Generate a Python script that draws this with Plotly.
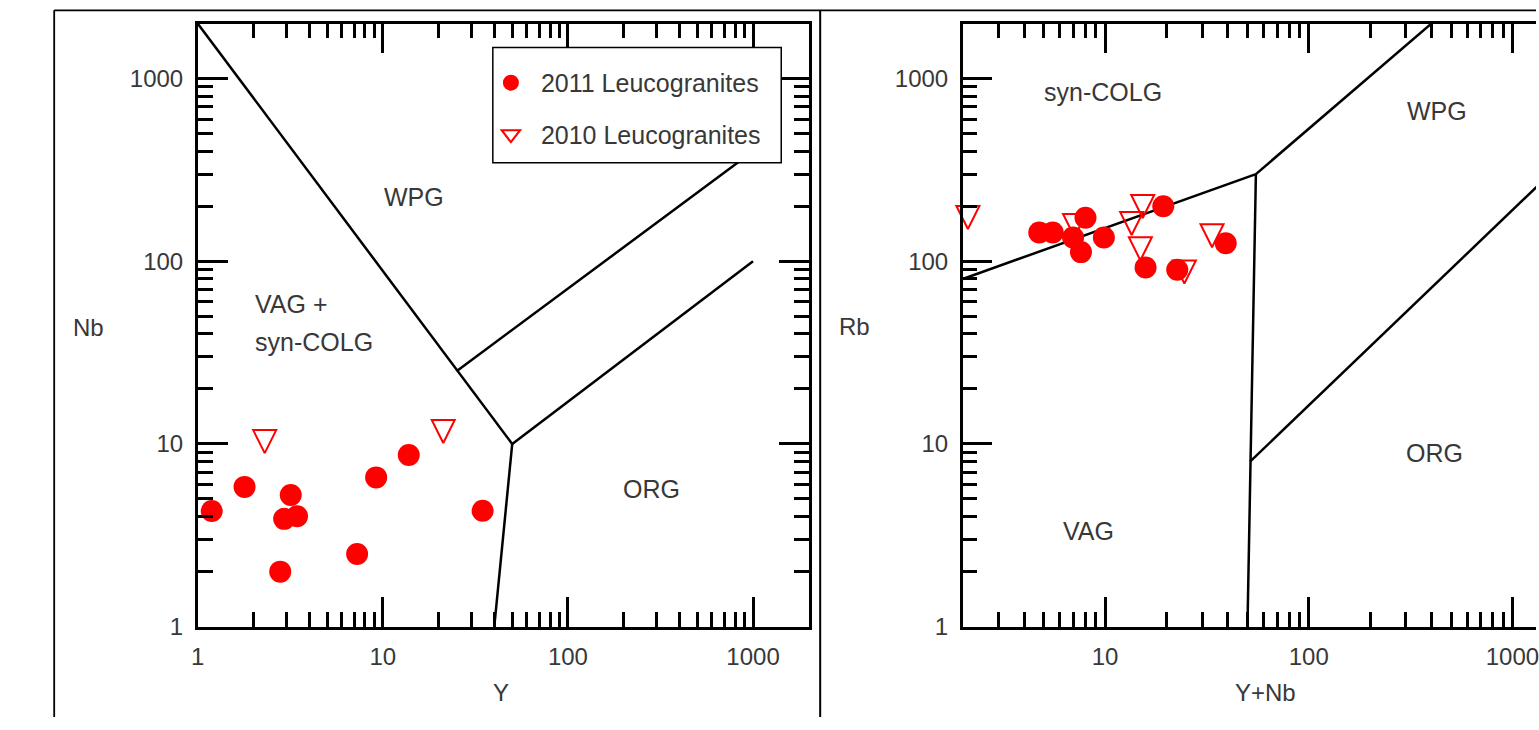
import numpy as np
import plotly.graph_objects as go

# ---------------- data ----------------
# Left diagram: Nb vs Y (ppm)
y_2011 = [1.19, 1.79, 3.18, 2.93, 3.44, 2.79, 7.26, 9.2, 13.8, 34.6]
nb_2011 = [4.29, 5.82, 5.25, 3.89, 4.02, 2.0, 2.5, 6.56, 8.7, 4.31]
y_2010 = [2.30, 21.2]
nb_2010 = [10.3, 11.7]

# Right diagram: Rb vs Y+Nb (ppm)
ynb_2011 = [4.75, 5.53, 8.01, 6.96, 9.86, 7.61, 19.3, 15.8, 22.6, 39.1]
rb_2011 = [143.7, 143.7, 173, 135, 135, 112.2, 200, 92.5, 89.8, 125.5]
ynb_2010 = [2.12, 7.08, 15.3, 13.5, 14.9, 24.5, 33.5]
rb_2010 = [173.5, 157, 199.3, 161, 117, 87.3, 138]

# Field boundaries (Pearce et al. 1984)
nbY_bounds = [
    ([1, 50], [2000, 10]),
    ([50, 1000], [10, 100]),
    ([50, 40], [10, 1]),
    ([25, 1000], [25, 400]),
]
rbYNb_bounds = [
    ([2, 55], [80, 300]),
    ([55, 400], [300, 2000]),
    ([55, 51.5, 50], [300, 8, 1]),
    ([51.5, 2000], [8, 400]),
]

left_fields = [("WPG", 14.7, 224, "center"), ("VAG +", 2.0, 58.2, "left"),
               ("syn-COLG", 2.0, 36.0, "left"), ("ORG", 284, 5.66, "center")]
right_fields = [("syn-COLG", 9.8, 841, "center"), ("WPG", 424, 665, "center"),
                ("VAG", 8.28, 3.34, "center"), ("ORG", 415, 8.94, "center")]

series_names = ["2011 Leucogranites", "2010 Leucogranites"]

# ---------------- layout geometry ----------------
W, H = 1539, 730
FONT = "Liberation Sans, Arial, sans-serif"
TXT = "#383838"
RED = "#ff0000"


def px(x):
    return x / W


def py(y):
    return (H - y) / H


fig = go.Figure()

# boundary lines
for xs, ys in nbY_bounds:
    fig.add_trace(go.Scatter(x=xs, y=ys, mode="lines", line=dict(color="black", width=2.5),
                             showlegend=False, hoverinfo="skip", xaxis="x", yaxis="y"))
for xs, ys in rbYNb_bounds:
    fig.add_trace(go.Scatter(x=xs, y=ys, mode="lines", line=dict(color="black", width=2.5),
                             showlegend=False, hoverinfo="skip", xaxis="x2", yaxis="y2"))

tri = dict(symbol="arrow-down-open", size=23, standoff=11.5, color=RED, line=dict(color=RED, width=2))
dot = dict(symbol="circle", size=22, color=RED, line=dict(width=0))

fig.add_trace(go.Scatter(x=y_2010, y=nb_2010, mode="markers", marker=tri, name=series_names[1],
                         showlegend=False, cliponaxis=False, xaxis="x", yaxis="y"))
fig.add_trace(go.Scatter(x=y_2011, y=nb_2011, mode="markers", marker=dot, name=series_names[0],
                         showlegend=False, cliponaxis=False, xaxis="x", yaxis="y"))
fig.add_trace(go.Scatter(x=ynb_2010, y=rb_2010, mode="markers", marker=tri, name=series_names[1],
                         showlegend=False, cliponaxis=False, xaxis="x2", yaxis="y2"))
fig.add_trace(go.Scatter(x=ynb_2011, y=rb_2011, mode="markers", marker=dot, name=series_names[0],
                         showlegend=False, cliponaxis=False, xaxis="x2", yaxis="y2"))

# legend keys (no data of their own)
fig.add_trace(go.Scatter(x=[None], y=[None], mode="markers", name=series_names[0],
                         marker=dict(symbol="circle", size=16, color=RED, line=dict(width=0)),
                         legendgroup="a", legendrank=1, xaxis="x", yaxis="y"))
fig.add_trace(go.Scatter(x=[None], y=[None], mode="markers", name=series_names[1],
                         marker=dict(symbol="triangle-down-open", size=16, color=RED,
                                     line=dict(color=RED, width=2)),
                         legendgroup="b", legendrank=2, xaxis="x", yaxis="y"))


def axis(domain, rng, mirror):
    return dict(
        type="log", domain=domain, range=rng, showgrid=False, zeroline=False,
        showline=True, linecolor="black", linewidth=2.5, mirror=mirror,
        ticks="inside", ticklen=30, tickwidth=2.5, tickcolor="black",
        tickmode="linear", tick0=0, dtick=1, exponentformat="none",
        minor=dict(ticks="inside", ticklen=15, tickwidth=2.5, tickcolor="black",
                   dtick="D1", showgrid=False),
        tickfont=dict(family=FONT, size=24, color=TXT),
        ticklabelstandoff=7, ticklabeloverflow="allow", fixedrange=True,
    )


ydom = [py(638), py(24)]
fig.update_layout(
    width=W, height=H, margin=dict(l=0, r=0, t=0, b=0),
    paper_bgcolor="white", plot_bgcolor="white",
    xaxis=axis([px(192), px(807)], [0, np.log10(2000)], "allticks"),
    yaxis=axis(ydom, [0, np.log10(2000)], "allticks"),
    xaxis2=axis([px(962), 1.0], [np.log10(2), np.log10(2) + (W - 962) / 205], "allticks"),
    yaxis2=axis(ydom, [0, np.log10(2000)], False),
    showlegend=True,
    legend=dict(x=px(477), xanchor="left", y=py(61), yanchor="top",
                bgcolor="rgba(0,0,0,0)", borderwidth=0, itemwidth=50,
                tracegroupgap=16, traceorder="grouped",
                font=dict(family=FONT, size=25, color=TXT)),
)
fig.layout.yaxis2.anchor = "x2"
fig.layout.xaxis2.anchor = "y2"

# frame lines and legend box
shapes = [
    dict(type="line", xref="paper", yref="paper", x0=px(47.5), x1=1, y0=py(10.5), y1=py(10.5),
         line=dict(color="black", width=1.8)),
    dict(type="line", xref="paper", yref="paper", x0=px(47.5), x1=px(47.5), y0=0, y1=py(10.5),
         line=dict(color="black", width=1.8)),
    dict(type="line", xref="paper", yref="paper", x0=px(818.5), x1=px(818.5), y0=0, y1=py(10.5),
         line=dict(color="black", width=2)),
    dict(type="rect", xref="paper", yref="paper", x0=px(489), x1=px(779.3), y0=py(165.7), y1=py(48.3),
         line=dict(color="black", width=1.5), fillcolor="white", layer="above"),
]
fig.update_layout(shapes=shapes)

ann = []
for text, xv, yv, al in left_fields:
    ann.append(dict(x=np.log10(xv), y=np.log10(yv), xref="x", yref="y", text=text, showarrow=False,
                    xanchor=al, yanchor="middle", font=dict(family=FONT, size=25, color=TXT)))
for text, xv, yv, al in right_fields:
    ann.append(dict(x=np.log10(xv), y=np.log10(yv), xref="x2", yref="y2", text=text, showarrow=False,
                    xanchor=al, yanchor="middle", font=dict(family=FONT, size=25, color=TXT)))
for text, x, y in [("Nb", 82, 333), ("Y", 497.5, 705), ("Rb", 853, 332), ("Y+Nb", 1267, 705)]:
    ann.append(dict(x=px(x), y=py(y), xref="paper", yref="paper", text=text, showarrow=False,
                    xanchor="center", yanchor="middle", font=dict(family=FONT, size=24, color=TXT)))
fig.update_layout(annotations=ann)

fig.write_html("out.html", config={"displayModeBar": False},
               post_script="document.body.style.margin='0';document.body.style.overflow='hidden';")
